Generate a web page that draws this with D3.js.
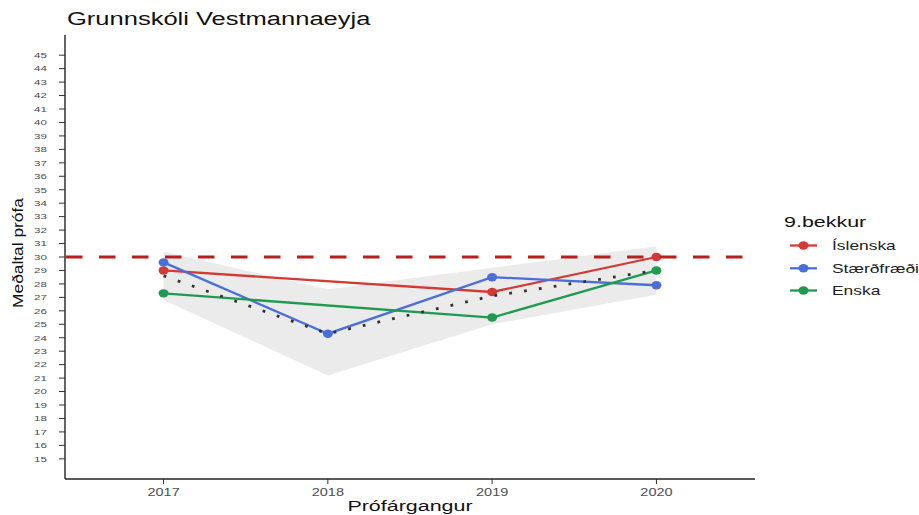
<!DOCTYPE html>
<html><head><meta charset="utf-8">
<script src="https://cdn.jsdelivr.net/npm/d3@7/dist/d3.min.js"></script>
<style>body{margin:0;background:#fff}svg{display:block}text{font-family:"Liberation Sans",Arial,sans-serif}</style>
</head><body>
<script>
const years = ["2017","2018","2019","2020"];
const islenska = [29.0, null, 27.4, 30.0];
const staerdfraedi = [29.6, 24.3, 28.5, 27.9];
const enska = [27.3, null, 25.5, 29.0];
const meanLine = [28.6, 24.3, 27.1, 29.0];
const ribbonLower = [26.8, 21.2, 25.0, 27.2];
const ribbonUpper = [30.4, 27.6, 29.2, 30.8];
const refValue = 30;
const yTicks = d3.range(15, 46);
const seriesNames = ["Íslenska", "Stærðfræði", "Enska"];
const seriesColors = ["#d43a35", "#4a6fd8", "#1f9a50"];
const seriesValues = [islenska, staerdfraedi, enska];

const W = 919, H = 515;
const svg = d3.select("body").append("svg").attr("width", W).attr("height", H);
const L = 65, R = 755, T = 35, B = 479;
const SX = 1.45;

const x = d3.scalePoint().domain(years).range([L, R]).padding(0.6);
const y = d3.scaleLinear().domain([13.5, 46.5]).range([B, T]);

function stext(g, txt, px, py, size, anchor, color, sx) {
  const gg = g.append("g").attr("transform", `translate(${px},${py}) scale(${sx||SX},1)`);
  return gg.append("text").attr("font-size", size).attr("text-anchor", anchor||"start")
    .attr("fill", color||"#000").text(txt);
}

// ribbon
const ribbonData = years.map((yr, i) => ({yr, lo: ribbonLower[i], hi: ribbonUpper[i]}));
svg.append("path").datum(ribbonData)
  .attr("d", d3.area().x(d => x(d.yr)).y0(d => y(d.lo)).y1(d => y(d.hi)))
  .attr("fill", "#ebebeb");

// series
seriesValues.forEach((vals, si) => {
  const pts = years.map((yr, i) => ({yr, v: vals[i]})).filter(d => d.v != null);
  svg.append("path").datum(pts)
    .attr("d", d3.line().x(d => x(d.yr)).y(d => y(d.v)))
    .attr("fill", "none").attr("stroke", seriesColors[si]).attr("stroke-width", 2.3);
  svg.selectAll(null).data(pts).enter().append("ellipse")
    .attr("cx", d => x(d.yr)).attr("cy", d => y(d.v)).attr("rx", 5).attr("ry", 4.2)
    .attr("fill", seriesColors[si]);
});

// mean dotted
const meanData = years.map((yr, i) => ({yr, v: meanLine[i]}));
svg.append("path").datum(meanData)
  .attr("d", d3.line().x(d => x(d.yr)).y(d => y(d.v)))
  .attr("fill", "none").attr("stroke", "#333").attr("stroke-width", 2.8)
  .attr("stroke-dasharray", "2.8 12.2");

// reference dashed
svg.append("line").attr("x1", L).attr("x2", R).attr("y1", y(refValue)).attr("y2", y(refValue))
  .attr("stroke", "#b51f1f").attr("stroke-width", 3).attr("stroke-dasharray", "16.5 16.5")
  .attr("stroke-dashoffset", -1);

// axes
const ax = svg.append("g");
ax.append("line").attr("x1", L).attr("x2", L).attr("y1", T).attr("y2", B).attr("stroke", "#222").attr("stroke-width", 1.4);
ax.append("line").attr("x1", L).attr("x2", R).attr("y1", B).attr("y2", B).attr("stroke", "#222").attr("stroke-width", 1.4);
yTicks.forEach(t => {
  ax.append("line").attr("x1", L - 6).attr("x2", L).attr("y1", y(t)).attr("y2", y(t)).attr("stroke", "#333").attr("stroke-width", 1);
  stext(ax, String(t), 47, y(t) + 2.8, 8, "end", "#4d4d4d");
});
years.forEach(yr => {
  ax.append("line").attr("x1", x(yr)).attr("x2", x(yr)).attr("y1", B).attr("y2", B + 5).attr("stroke", "#333").attr("stroke-width", 1);
  stext(ax, yr, x(yr), 495.5, 10, "middle", "#4d4d4d");
});

// titles
stext(svg, "Grunnskóli Vestmannaeyja", 67, 25, 17.6, "start", "#111");
stext(svg, "Prófárgangur", 410, 510.5, 14.8, "middle", "#111");
svg.append("text").attr("transform", `translate(23,253) rotate(-90) scale(1.12,1)`)
  .attr("font-size", 15.5).attr("text-anchor", "middle").attr("fill", "#111").text("Meðaltal prófa");

// legend
stext(svg, "9.bekkur", 784, 226.5, 14.8, "start", "#111");
const legY = [245.5, 268.3, 290.5];
seriesNames.forEach((nm, i) => {
  svg.append("line").attr("x1", 790).attr("x2", 817).attr("y1", legY[i]).attr("y2", legY[i])
    .attr("stroke", seriesColors[i]).attr("stroke-width", 2.3);
  svg.append("ellipse").attr("cx", 803.5).attr("cy", legY[i]).attr("rx", 5).attr("ry", 4.2).attr("fill", seriesColors[i]);
  stext(svg, nm, 832, legY[i] + 4.3, 12, "start", "#222");
});
</script>
</body></html>
